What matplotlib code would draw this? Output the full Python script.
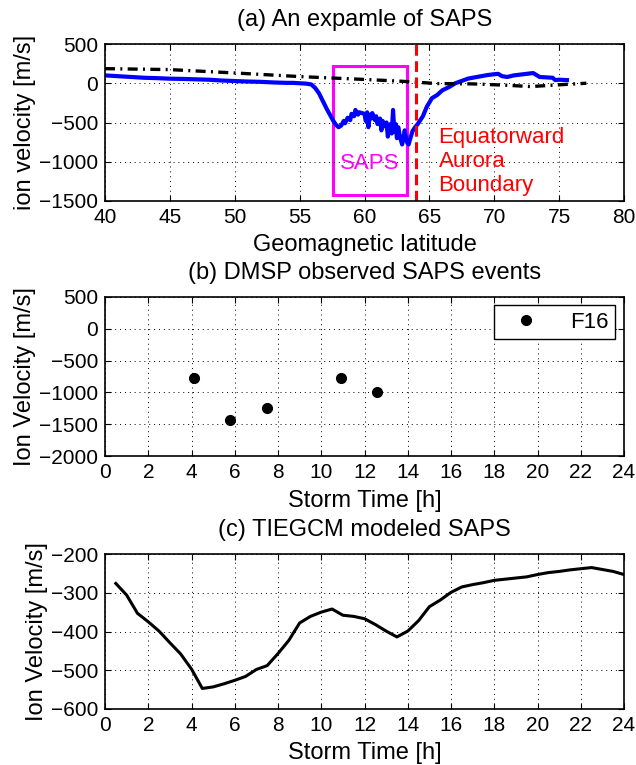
import matplotlib
matplotlib.use("Agg")
import matplotlib.pyplot as plt
from matplotlib.patches import Rectangle

plt.rcParams["font.family"] = ["Liberation Sans", "DejaVu Sans"]

# ---------------------------------------------------------------------------
# (a) example SAPS crossing
# ---------------------------------------------------------------------------
lat_ion = [40, 41, 42, 43, 44, 45, 46, 47, 48, 49, 50, 51, 52, 53, 54, 54.5,
           55.0, 55.5, 55.9, 56.2, 56.5, 56.8, 57.1, 57.4, 57.6, 57.8, 58.0,
           58.2, 58.4, 58.5, 58.7, 58.9, 59.0, 59.2, 59.3, 59.5, 59.6, 59.8,
           60.0, 60.1, 60.2, 60.3, 60.4, 60.5, 60.6, 60.8, 60.9, 61.0, 61.2,
           61.3, 61.4, 61.6, 61.7, 61.8, 61.9, 62.0, 62.1, 62.2, 62.3, 62.4,
           62.5, 62.6, 62.7, 62.8, 62.9, 63.0, 63.1, 63.2, 63.3, 63.4, 63.5,
           63.7, 63.9, 64.1, 64.3, 64.5, 64.8, 65.2, 65.6, 66.0, 66.5, 67.0,
           67.5, 68.0, 68.5, 69.0, 69.5, 70.0, 70.3, 70.6, 71.0, 71.5, 72.0,
           72.5, 73.0, 73.2, 73.5, 74.0, 74.5, 74.7, 75.0, 75.6]
v_ion = [100, 90, 80, 70, 65, 58, 55, 50, 45, 35, 28, 22, 18, 10, 5, 5,
         0, -5, -15, -60, -130, -230, -330, -420, -480, -530, -560,
         -540, -480, -510, -440, -470, -390, -420, -340, -400, -370, -380,
         -390, -480, -370, -560, -400, -450, -380, -470, -420, -520, -450,
         -600, -480, -550, -500, -680, -560, -520, -640, -340, -620, -520,
         -700, -560, -650, -720, -780, -700, -600, -700, -760, -780, -720,
         -610, -560, -520, -470, -420, -300, -190, -150, -90, -50, 0,
         30, 60, 75, 90, 105, 115, 120, 90, 80, 100, 110,
         120, 130, 110, 80, 75, 70, 40, 45, 40]

lat_model = [40, 45, 50, 55, 60.2, 62.9, 65.6, 68.3, 70.9, 72.8, 75.7, 77.1]
v_model = [186, 174, 131, 85, 47, 25, -4, -8, -25, -42, -13, 0]

saps_box = (57.55, 63.3, -1420, 220)   # lat0, lat1, v0, v1
aurora_lat = 64.0

# ---------------------------------------------------------------------------
# (b) DMSP observed SAPS events
# ---------------------------------------------------------------------------
f16_time = [4.1, 5.8, 7.5, 10.9, 12.6]
f16_vel = [-775, -1430, -1250, -775, -1000]

# ---------------------------------------------------------------------------
# (c) TIEGCM modeled SAPS
# ---------------------------------------------------------------------------
tie_time = [0.5, 1.0, 1.5, 2.0, 2.5, 3.0, 3.5, 4.0, 4.5, 5.0, 5.5, 6.0, 6.5,
            7.0, 7.5, 8.0, 8.5, 9.0, 9.5, 10.0, 10.5, 11.0, 11.5, 12.0, 12.5,
            13.0, 13.5, 14.0, 14.5, 15.0, 15.5, 16.0, 16.5, 17.0, 17.5, 18.0,
            18.5, 19.0, 19.5, 20.0, 20.5, 21.0, 21.5, 22.0, 22.5, 23.0, 23.5,
            24.0]
tie_vel = [-276, -306, -353, -375, -399, -429, -458, -497, -547, -543, -535,
           -526, -516, -498, -488, -457, -423, -378, -361, -350, -342, -358,
           -361, -367, -382, -399, -414, -399, -372, -336, -319, -299, -285,
           -279, -274, -268, -265, -262, -259, -253, -248, -245, -241, -238,
           -235, -240, -245, -253]

TICK_FS = 15
LABEL_FS = 17


def style_axes(ax):
    ax.tick_params(direction="in", top=True, right=True, length=4,
                   width=0.8, labelsize=TICK_FS, pad=5)
    ax.grid(True, linestyle=(0, (1, 4)), color="black", linewidth=0.7)
    for s in ax.spines.values():
        s.set_linewidth(1.2)


fig = plt.figure(figsize=(6.36, 7.65), dpi=100)
W, H = 636, 765
left, width = 105 / W, (624 - 105) / W

# (a)
ax1 = fig.add_axes([left, 1 - 201 / H, width, 157 / H])
ax1.plot(lat_ion, v_ion, color="#0000ff", linewidth=3.0, solid_joinstyle="round")
ax1.plot(lat_model, v_model, color="black", linewidth=2.4,
         linestyle=(0, (3, 1.6, 0.6, 1.6)))
ax1.axvline(aurora_lat, color="red", linewidth=2.2, linestyle=(0, (3.5, 1.8)))
ax1.add_patch(Rectangle((saps_box[0], saps_box[2]), saps_box[1] - saps_box[0],
                        saps_box[3] - saps_box[2], fill=False,
                        edgecolor="magenta", linewidth=2.2))
ax1.text(60.4, -1018, "SAPS", color="magenta", fontsize=16,
         ha="center", va="center")
ax1.text(65.7, -1000, "Equatorward\nAurora\nBoundary", color="red",
         fontsize=16, ha="left", va="center", linespacing=1.2)
ax1.set_xlim(40, 80)
ax1.set_ylim(-1500, 500)
ax1.set_xticks(range(40, 81, 5))
ax1.set_yticks(range(-1500, 501, 500))
ax1.set_xlabel("Geomagnetic latitude", fontsize=LABEL_FS, labelpad=5)
ax1.set_ylabel("ion velocity [m/s]", fontsize=LABEL_FS, labelpad=2)
ax1.set_title("(a) An expamle of SAPS", fontsize=LABEL_FS, pad=13)
style_axes(ax1)

# (b)
ax2 = fig.add_axes([left, 1 - 456 / H, width, 159 / H])
ax2.plot(f16_time, f16_vel, linestyle="none", marker="o", markersize=7,
         color="black", label="F16")
ax2.set_xlim(0, 24)
ax2.set_ylim(-2000, 500)
ax2.set_xticks(range(0, 25, 2))
ax2.set_yticks(range(-2000, 501, 500))
ax2.set_xlabel("Storm Time [h]", fontsize=LABEL_FS, labelpad=6)
ax2.set_ylabel("Ion Velocity [m/s]", fontsize=LABEL_FS, labelpad=2)
ax2.set_title("(b) DMSP observed SAPS events", fontsize=LABEL_FS, pad=13)
leg = ax2.legend(loc="upper right", fontsize=16, fancybox=False,
                 framealpha=1, edgecolor="black", borderpad=0.3,
                 handlelength=2.2, handletextpad=0.9, borderaxespad=0,
                 bbox_to_anchor=(0.983, 0.95))
leg.get_frame().set_linewidth(1.0)
style_axes(ax2)

# (c)
ax3 = fig.add_axes([left, 1 - 709 / H, width, 155 / H])
ax3.plot(tie_time, tie_vel, color="black", linewidth=2.2)
ax3.set_xlim(0, 24)
ax3.set_ylim(-600, -200)
ax3.set_xticks(range(0, 25, 2))
ax3.set_yticks(range(-600, -199, 100))
ax3.set_xlabel("Storm Time [h]", fontsize=LABEL_FS, labelpad=5)
ax3.set_ylabel("Ion Velocity [m/s]", fontsize=LABEL_FS, labelpad=2)
ax3.set_title("(c) TIEGCM modeled SAPS", fontsize=LABEL_FS, pad=13)
style_axes(ax3)

fig.savefig("out.png", dpi=100)
